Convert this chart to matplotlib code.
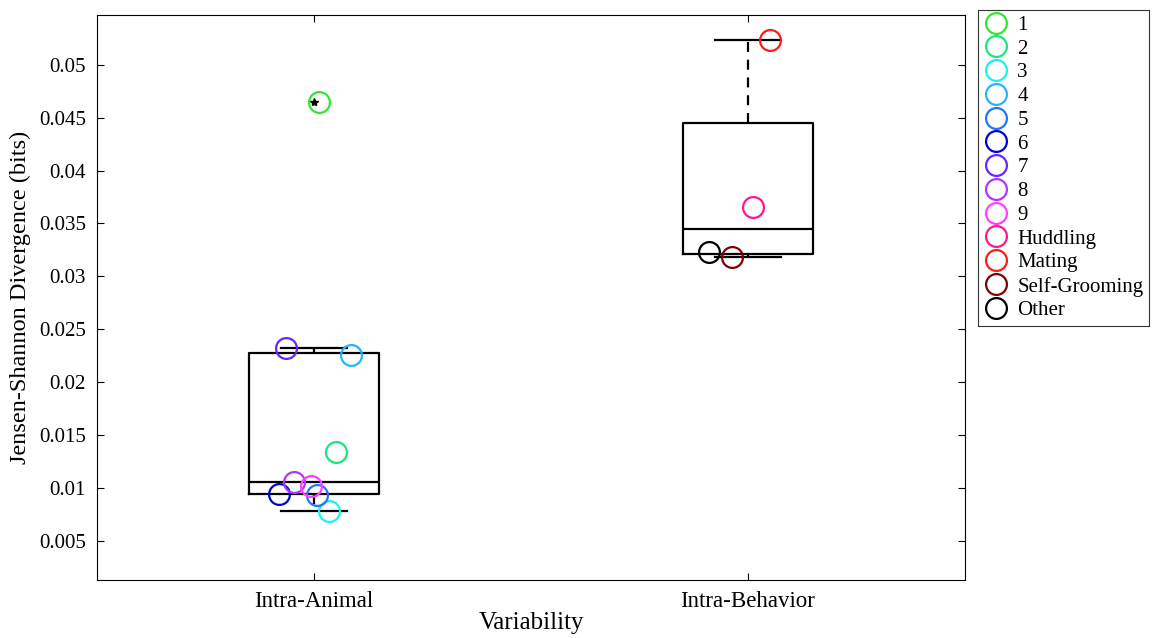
import numpy as np
import matplotlib
matplotlib.use("Agg")
import matplotlib.pyplot as plt
from matplotlib.lines import Line2D

plt.rcParams['font.family'] = ['Liberation Serif', 'DejaVu Serif']

categories = ["Intra-Animal", "Intra-Behavior"]

animal_labels = ["1", "2", "3", "4", "5", "6", "7", "8", "9"]
animal_values = [0.0465, 0.0134, 0.00785, 0.0226, 0.00936, 0.00945, 0.02326, 0.01059, 0.0102]
animal_jitter = [0.012, 0.051, 0.035, 0.085, 0.007, -0.081, -0.065, -0.046, -0.007]

behavior_labels = ["Huddling", "Mating", "Self-Grooming", "Other"]
behavior_values = [0.03659, 0.05237, 0.03186, 0.03233]
behavior_jitter = [0.012, 0.051, -0.037, -0.090]

animal_colors = [(0.2, 0.9, 0.2), (0.1, 0.9, 0.5), (0.1, 0.95, 0.95), (0.15, 0.7, 1.0),
                 (0.15, 0.45, 1.0), (0.0, 0.0, 0.85), (0.4, 0.15, 1.0), (0.7, 0.2, 1.0),
                 (1.0, 0.25, 1.0)]
behavior_colors = [(1.0, 0.1, 0.55), (1.0, 0.1, 0.1), (0.5, 0.0, 0.0), (0.0, 0.0, 0.0)]

yticks = [0.005, 0.01, 0.015, 0.02, 0.025, 0.03, 0.035, 0.04, 0.045, 0.05]


def matlab_stats(vals):
    v = np.sort(np.asarray(vals))
    q1, med, q3 = np.percentile(v, [25, 50, 75], method='hazen')
    iqr = q3 - q1
    hi_lim = q3 + 1.5 * iqr
    lo_lim = q1 - 1.5 * iqr
    inside = v[(v >= lo_lim) & (v <= hi_lim)]
    fl = v[(v < lo_lim) | (v > hi_lim)]
    return dict(med=med, q1=q1, q3=q3, whislo=inside.min(), whishi=inside.max(), fliers=fl)


fig = plt.figure(figsize=(11.53, 6.38), dpi=100)
ax = fig.add_axes([0.0841, 0.0909, 0.7529, 0.8856])

stats = [matlab_stats(animal_values), matlab_stats(behavior_values)]
ax.bxp(stats, positions=[1, 2], widths=0.3, showfliers=True,
       boxprops=dict(color='black', linewidth=1.6),
       medianprops=dict(color='black', linewidth=1.6),
       whiskerprops=dict(color='black', linewidth=1.6, linestyle=(0, (4.5, 3.5))),
       capprops=dict(color='black', linewidth=1.6),
       capwidths=0.15,
       flierprops=dict(marker='*', markerfacecolor='black', markeredgecolor='black',
                       markersize=6, linestyle='none'))

handles = []
for lab, val, jit, col in zip(animal_labels, animal_values, animal_jitter, animal_colors):
    ax.plot(1 + jit, val, 'o', ms=15, mfc='none', mec=col, mew=1.6, zorder=3)
    handles.append(Line2D([], [], marker='o', ms=15, mfc='none', mec=col, mew=1.6,
                          linestyle='none', label=lab))
for lab, val, jit, col in zip(behavior_labels, behavior_values, behavior_jitter, behavior_colors):
    ax.plot(2 + jit, val, 'o', ms=15, mfc='none', mec=col, mew=1.6, zorder=3)
    handles.append(Line2D([], [], marker='o', ms=15, mfc='none', mec=col, mew=1.6,
                          linestyle='none', label=lab))

ax.set_xlim(0.5, 2.5)
ax.set_ylim(0.0013, 0.0547)
ax.set_xticks([1, 2])
ax.set_xticklabels(categories, fontsize=16.5)
ax.set_yticks(yticks)
ax.set_yticklabels(['%g' % t for t in yticks], fontsize=15)
ax.tick_params(direction='in', top=True, right=True, length=5, pad=8)
ax.tick_params(axis='x', pad=8)
for s in ax.spines.values():
    s.set_linewidth(0.8)
ax.set_xlabel("Variability", fontsize=18, labelpad=0)
ax.set_ylabel("Jensen-Shannon Divergence (bits)", fontsize=17.5, labelpad=6)

leg = fig.legend(handles=handles, loc='upper left', bbox_to_anchor=(0.848, 0.984),
                 fontsize=15, frameon=True, fancybox=False, edgecolor='black',
                 handletextpad=0.35, labelspacing=0.2, borderpad=0.25, handlelength=1.3,
                 borderaxespad=0)
leg.get_frame().set_linewidth(0.8)

fig.savefig("out.png", dpi=100)
